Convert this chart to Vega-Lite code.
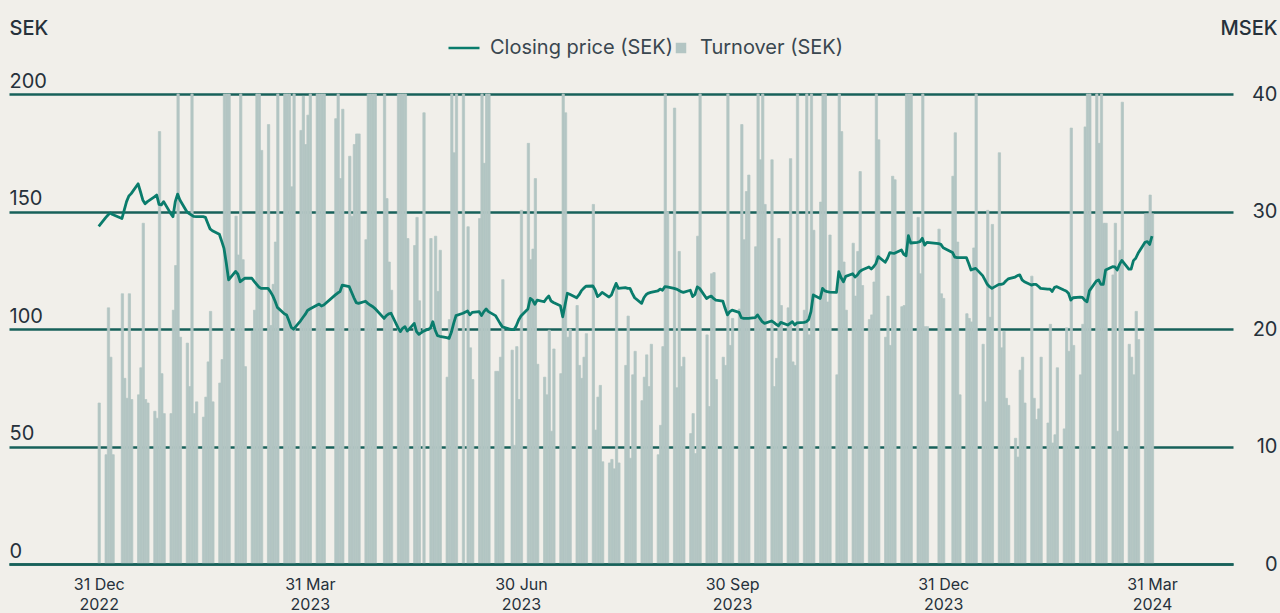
{
  "$schema": "https://vega.github.io/schema/vega-lite/v6.json",
  "width": 1224,
  "height": 470,
  "autosize": {"type": "none"},
  "padding": {"left": 9, "top": 94, "right": 47, "bottom": 49},
  "background": "#f1efea",
  "config": {
    "font": "Inter",
    "view": {"stroke": null},
    "axis": {"labelColor": "#26313b", "titleColor": "#26313b", "labelFont": "Inter", "titleFont": "Inter"},
    "legend": {"labelFont": "Inter", "labelColor": "#3a4750", "padding": 0, "labelLimit": 400}
  },
  "data": {"values": [
    {"d":"2022-12-30","p":143.7,"t":13.7},
    {"d":"2023-01-02","p":147.4,"t":9.3},{"d":"2023-01-03","p":148.5,"t":21.8},{"d":"2023-01-04","p":149.4,"t":17.6},{"d":"2023-01-05","p":148.7,"t":9.3},
    {"d":"2023-01-09","p":147.0,"t":23},{"d":"2023-01-10","p":150.6,"t":15.8},{"d":"2023-01-11","p":154.2,"t":14.1},{"d":"2023-01-12","p":156.6,"t":23},{"d":"2023-01-13","p":157.6,"t":14},
    {"d":"2023-01-16","p":161.8,"t":14.4},{"d":"2023-01-17","p":158.4,"t":16.7},{"d":"2023-01-18","p":154.9,"t":29},{"d":"2023-01-19","p":153.3,"t":14},{"d":"2023-01-20","p":154.2,"t":13.7},
    {"d":"2023-01-23","p":156.2,"t":13},{"d":"2023-01-24","p":157.0,"t":12.4},{"d":"2023-01-25","p":153.0,"t":36.8},{"d":"2023-01-26","p":152.8,"t":16.2},{"d":"2023-01-27","p":154.2,"t":12.8},
    {"d":"2023-01-30","p":149.2,"t":12.8},{"d":"2023-01-31","p":147.8,"t":21.6},{"d":"2023-02-01","p":154.2,"t":25.4},{"d":"2023-02-02","p":157.4,"t":40},{"d":"2023-02-03","p":154.9,"t":19.3},
    {"d":"2023-02-06","p":149.9,"t":18.8},{"d":"2023-02-07","p":149.1,"t":15.1},{"d":"2023-02-08","p":148.5,"t":40},{"d":"2023-02-09","p":147.9,"t":12.8},{"d":"2023-02-10","p":147.8,"t":13.8},
    {"d":"2023-02-13","p":147.8,"t":12.5},{"d":"2023-02-14","p":147.5,"t":14.2},{"d":"2023-02-15","p":145.0,"t":17.2},{"d":"2023-02-16","p":142.6,"t":21.5},{"d":"2023-02-17","p":141.8,"t":13.8},
    {"d":"2023-02-20","p":140.3,"t":15.4},{"d":"2023-02-21","p":137.4,"t":17.4},{"d":"2023-02-22","p":134.3,"t":40},{"d":"2023-02-23","p":128.0,"t":40},{"d":"2023-02-24","p":120.9,"t":40},
    {"d":"2023-02-27","p":124.5,"t":29.6},{"d":"2023-02-28","p":123.3,"t":26.3},{"d":"2023-03-01","p":120.1,"t":40},{"d":"2023-03-02","p":120.9,"t":25.9},{"d":"2023-03-03","p":121.6,"t":16.8},
    {"d":"2023-03-06","p":121.6,"t":19.8},{"d":"2023-03-07","p":120.3,"t":21.6},{"d":"2023-03-08","p":119.1,"t":40},{"d":"2023-03-09","p":117.9,"t":40},{"d":"2023-03-10","p":117.3,"t":35.2},
    {"d":"2023-03-13","p":117.3,"t":37.4},{"d":"2023-03-14","p":115.9,"t":20.3},{"d":"2023-03-15","p":114.2,"t":23.8},{"d":"2023-03-16","p":111.9,"t":27.4},{"d":"2023-03-17","p":109.2,"t":40},
    {"d":"2023-03-20","p":106.5,"t":40},{"d":"2023-03-21","p":106.0,"t":40},{"d":"2023-03-22","p":103.5,"t":40},{"d":"2023-03-23","p":100.7,"t":32.1},{"d":"2023-03-24","p":99.9,"t":40},
    {"d":"2023-03-27","p":103.5,"t":36.9},{"d":"2023-03-28","p":104.9,"t":39.8},{"d":"2023-03-29","p":106.2,"t":35.7},{"d":"2023-03-30","p":107.9,"t":38.2},{"d":"2023-03-31","p":108.5,"t":40},
    {"d":"2023-04-03","p":110.1,"t":40},{"d":"2023-04-04","p":110.6,"t":40},{"d":"2023-04-05","p":109.8,"t":40},{"d":"2023-04-06","p":110.2,"t":40},
    {"d":"2023-04-11","p":114.5,"t":37.9},{"d":"2023-04-12","p":115.3,"t":40},{"d":"2023-04-13","p":115.9,"t":32.8},{"d":"2023-04-14","p":118.7,"t":38.7},
    {"d":"2023-04-17","p":118.0,"t":34.7},{"d":"2023-04-18","p":115.6,"t":29.6},{"d":"2023-04-19","p":113.3,"t":35.7},{"d":"2023-04-20","p":111.2,"t":36.6},{"d":"2023-04-21","p":110.9,"t":36.6},
    {"d":"2023-04-24","p":111.8,"t":27.6},{"d":"2023-04-25","p":110.9,"t":40},{"d":"2023-04-26","p":110.2,"t":40},{"d":"2023-04-27","p":109.6,"t":40},{"d":"2023-04-28","p":108.8,"t":40},
    {"d":"2023-05-02","p":104.5,"t":40},{"d":"2023-05-03","p":105.7,"t":31.1},{"d":"2023-05-04","p":106.4,"t":25.7},{"d":"2023-05-05","p":106.7,"t":23.3},
    {"d":"2023-05-08","p":100.6,"t":40},{"d":"2023-05-09","p":98.9,"t":40},{"d":"2023-05-10","p":100.3,"t":40},{"d":"2023-05-11","p":101.0,"t":40},{"d":"2023-05-12","p":99.1,"t":27.7},
    {"d":"2023-05-15","p":102.4,"t":27.1},{"d":"2023-05-16","p":98.9,"t":29.5},{"d":"2023-05-17","p":97.7,"t":22.4},{"d":"2023-05-19","p":99.1,"t":38.4},
    {"d":"2023-05-22","p":100.3,"t":27.7},{"d":"2023-05-23","p":103.1,"t":20},{"d":"2023-05-24","p":99.6,"t":27.9},{"d":"2023-05-25","p":97.2,"t":23.2},{"d":"2023-05-26","p":96.9,"t":26.7},
    {"d":"2023-05-29","p":96.3,"t":15.9},{"d":"2023-05-30","p":96.0,"t":20.8},{"d":"2023-05-31","p":98.6,"t":40},{"d":"2023-06-01","p":102.4,"t":35},{"d":"2023-06-02","p":105.7,"t":40},
    {"d":"2023-06-05","p":106.7,"t":40},{"d":"2023-06-07","p":107.7,"t":28.7},{"d":"2023-06-08","p":106.0,"t":18.4},{"d":"2023-06-09","p":107.1,"t":15.7},
    {"d":"2023-06-12","p":107.4,"t":29.4},{"d":"2023-06-13","p":105.7,"t":40},{"d":"2023-06-14","p":107.4,"t":34.1},{"d":"2023-06-15","p":108.5,"t":40},{"d":"2023-06-16","p":107.4,"t":40},
    {"d":"2023-06-19","p":105.7,"t":16.4},{"d":"2023-06-20","p":104.1,"t":16.4},{"d":"2023-06-21","p":102.4,"t":17.6},{"d":"2023-06-22","p":100.9,"t":24.2},
    {"d":"2023-06-26","p":99.7,"t":18.2},{"d":"2023-06-27","p":99.7,"t":10.1},{"d":"2023-06-28","p":101.4,"t":18.5},{"d":"2023-06-29","p":103.8,"t":14},{"d":"2023-06-30","p":105.5,"t":30.1},
    {"d":"2023-07-03","p":108.5,"t":35.8},{"d":"2023-07-04","p":113.0,"t":25.9},{"d":"2023-07-05","p":112.3,"t":26.8},{"d":"2023-07-06","p":110.5,"t":32.8},{"d":"2023-07-07","p":112.3,"t":17},
    {"d":"2023-07-10","p":111.6,"t":15.9},{"d":"2023-07-11","p":113.0,"t":14.4},{"d":"2023-07-12","p":114.0,"t":19.9},{"d":"2023-07-13","p":111.9,"t":11.3},{"d":"2023-07-14","p":111.3,"t":18.3},
    {"d":"2023-07-17","p":109.9,"t":16.2},{"d":"2023-07-18","p":105.2,"t":40},{"d":"2023-07-19","p":110.2,"t":38.4},{"d":"2023-07-20","p":115.2,"t":19.3},{"d":"2023-07-21","p":114.8,"t":20},
    {"d":"2023-07-24","p":113.3,"t":22},{"d":"2023-07-25","p":114.5,"t":16.9},{"d":"2023-07-26","p":116.2,"t":15.8},{"d":"2023-07-27","p":117.3,"t":17.6},{"d":"2023-07-28","p":118.2,"t":19.6},
    {"d":"2023-07-31","p":118.3,"t":30.6},{"d":"2023-08-01","p":116.6,"t":11.4},{"d":"2023-08-02","p":113.8,"t":14.2},{"d":"2023-08-03","p":114.5,"t":15.2},{"d":"2023-08-04","p":115.6,"t":8.7},
    {"d":"2023-08-07","p":113.6,"t":8.6},{"d":"2023-08-08","p":114.5,"t":8.9},{"d":"2023-08-09","p":117.0,"t":8.1},{"d":"2023-08-10","p":119.4,"t":23.7},{"d":"2023-08-11","p":117.3,"t":8.6},
    {"d":"2023-08-14","p":117.6,"t":16.9},{"d":"2023-08-15","p":117.3,"t":21.1},{"d":"2023-08-16","p":117.3,"t":9},{"d":"2023-08-17","p":115.2,"t":16.1},{"d":"2023-08-18","p":113.3,"t":18.1},
    {"d":"2023-08-21","p":110.9,"t":13.9},{"d":"2023-08-22","p":113.3,"t":15.9},{"d":"2023-08-23","p":114.7,"t":17.8},{"d":"2023-08-24","p":115.3,"t":15.1},{"d":"2023-08-25","p":115.6,"t":18.7},
    {"d":"2023-08-28","p":116.2,"t":9.3},{"d":"2023-08-29","p":117.0,"t":11.8},{"d":"2023-08-30","p":116.5,"t":18.5},{"d":"2023-08-31","p":118.0,"t":40},{"d":"2023-09-01","p":117.9,"t":30},
    {"d":"2023-09-04","p":117.3,"t":38.8},{"d":"2023-09-05","p":117.0,"t":15},{"d":"2023-09-06","p":116.5,"t":26.6},{"d":"2023-09-07","p":115.9,"t":16.8},{"d":"2023-09-08","p":115.6,"t":17.6},
    {"d":"2023-09-11","p":116.5,"t":11.1},{"d":"2023-09-12","p":113.8,"t":12.8},{"d":"2023-09-13","p":114.7,"t":9.4},{"d":"2023-09-14","p":117.9,"t":27.9},{"d":"2023-09-15","p":117.3,"t":40},
    {"d":"2023-09-18","p":113.0,"t":19.5},{"d":"2023-09-19","p":113.6,"t":13.4},{"d":"2023-09-20","p":114.0,"t":24.7},{"d":"2023-09-21","p":113.0,"t":24.8},{"d":"2023-09-22","p":112.3,"t":15.7},
    {"d":"2023-09-25","p":111.9,"t":17.6},{"d":"2023-09-26","p":108.8,"t":16.9},{"d":"2023-09-27","p":106.0,"t":40},{"d":"2023-09-28","p":107.4,"t":18.6},{"d":"2023-09-29","p":108.0,"t":20.9},
    {"d":"2023-10-02","p":107.1,"t":21.7},{"d":"2023-10-03","p":104.8,"t":37.4},{"d":"2023-10-04","p":104.5,"t":27.6},{"d":"2023-10-05","p":104.5,"t":31.7},{"d":"2023-10-06","p":104.5,"t":33.1},
    {"d":"2023-10-09","p":104.8,"t":27},{"d":"2023-10-10","p":106.0,"t":40},{"d":"2023-10-11","p":104.5,"t":34.4},{"d":"2023-10-12","p":103.1,"t":40},{"d":"2023-10-13","p":102.4,"t":30.6},
    {"d":"2023-10-16","p":103.4,"t":34.4},{"d":"2023-10-17","p":102.8,"t":15.1},{"d":"2023-10-18","p":102.0,"t":17.5},{"d":"2023-10-19","p":101.4,"t":27.7},{"d":"2023-10-20","p":102.8,"t":22},
    {"d":"2023-10-23","p":101.7,"t":21.8},{"d":"2023-10-24","p":102.4,"t":34.5},{"d":"2023-10-25","p":103.1,"t":17.2},{"d":"2023-10-26","p":101.7,"t":16.9},{"d":"2023-10-27","p":102.6,"t":40},
    {"d":"2023-10-30","p":102.8,"t":21.6},{"d":"2023-10-31","p":103.1,"t":40},{"d":"2023-11-01","p":104.0,"t":19.5},{"d":"2023-11-02","p":107.4,"t":40},{"d":"2023-11-03","p":114.5,"t":28.4},
    {"d":"2023-11-06","p":113.0,"t":30.8},{"d":"2023-11-07","p":117.3,"t":40},{"d":"2023-11-08","p":116.2,"t":40},{"d":"2023-11-09","p":115.9,"t":22.3},{"d":"2023-11-10","p":115.7,"t":28},
    {"d":"2023-11-13","p":115.6,"t":16.1},{"d":"2023-11-14","p":124.4,"t":40},{"d":"2023-11-15","p":121.8,"t":36.8},{"d":"2023-11-16","p":120.1,"t":25.7},{"d":"2023-11-17","p":122.4,"t":21.6},
    {"d":"2023-11-20","p":123.5,"t":27.3},{"d":"2023-11-21","p":122.1,"t":22.8},{"d":"2023-11-22","p":123.0,"t":26.6},{"d":"2023-11-23","p":124.4,"t":33.4},{"d":"2023-11-24","p":125.1,"t":23.7},
    {"d":"2023-11-27","p":126.4,"t":20.8},{"d":"2023-11-28","p":125.5,"t":21.2},{"d":"2023-11-29","p":126.5,"t":24},{"d":"2023-11-30","p":127.9,"t":40},{"d":"2023-12-01","p":130.8,"t":36.1},
    {"d":"2023-12-04","p":128.4,"t":19.3},{"d":"2023-12-05","p":130.1,"t":22.8},{"d":"2023-12-06","p":132.5,"t":18.6},{"d":"2023-12-07","p":132.3,"t":33},{"d":"2023-12-08","p":132.2,"t":32.7},
    {"d":"2023-12-11","p":133.6,"t":21.9},{"d":"2023-12-12","p":131.8,"t":22},{"d":"2023-12-13","p":131.2,"t":40},{"d":"2023-12-14","p":139.7,"t":40},{"d":"2023-12-15","p":136.6,"t":40},
    {"d":"2023-12-18","p":136.9,"t":29.5},{"d":"2023-12-19","p":137.2,"t":24.7},{"d":"2023-12-20","p":138.6,"t":40},{"d":"2023-12-21","p":135.7,"t":20.2},{"d":"2023-12-22","p":136.9,"t":20.2},
    {"d":"2023-12-27","p":136.3,"t":28.5},{"d":"2023-12-28","p":136.0,"t":23},{"d":"2023-12-29","p":134.6,"t":22.6},
    {"d":"2024-01-02","p":132.6,"t":33},{"d":"2024-01-03","p":130.6,"t":36.7},{"d":"2024-01-04","p":130.4,"t":27.4},{"d":"2024-01-05","p":130.4,"t":14.4},
    {"d":"2024-01-08","p":130.4,"t":21.3},{"d":"2024-01-09","p":127.9,"t":20.9},{"d":"2024-01-10","p":125.1,"t":20.6},{"d":"2024-01-11","p":125.5,"t":26.9},{"d":"2024-01-12","p":125.8,"t":40},
    {"d":"2024-01-15","p":122.7,"t":18.7},{"d":"2024-01-16","p":120.9,"t":13.8},{"d":"2024-01-17","p":119.0,"t":30.1},{"d":"2024-01-18","p":118.0,"t":21},{"d":"2024-01-19","p":117.3,"t":28.9},
    {"d":"2024-01-22","p":119.0,"t":35},{"d":"2024-01-23","p":119.0,"t":18.4},{"d":"2024-01-24","p":119.3,"t":19.8},{"d":"2024-01-25","p":120.4,"t":14.1},{"d":"2024-01-26","p":121.3,"t":13.5},
    {"d":"2024-01-29","p":122.1,"t":10.7},{"d":"2024-01-30","p":122.7,"t":9.1},{"d":"2024-01-31","p":123.0,"t":16.5},{"d":"2024-02-01","p":120.9,"t":17.6},{"d":"2024-02-02","p":120.1,"t":13.7},
    {"d":"2024-02-05","p":118.7,"t":24.5},{"d":"2024-02-06","p":119.0,"t":14.1},{"d":"2024-02-07","p":119.0,"t":12.3},{"d":"2024-02-08","p":118.2,"t":13.2},{"d":"2024-02-09","p":117.3,"t":17.6},
    {"d":"2024-02-12","p":117.0,"t":12},{"d":"2024-02-13","p":117.0,"t":20.4},{"d":"2024-02-14","p":116.0,"t":10.3},{"d":"2024-02-15","p":117.7,"t":11},{"d":"2024-02-16","p":118.0,"t":16.7},
    {"d":"2024-02-19","p":116.6,"t":11.5},{"d":"2024-02-20","p":116.2,"t":20.1},{"d":"2024-02-21","p":115.2,"t":18.1},{"d":"2024-02-22","p":112.3,"t":37.1},{"d":"2024-02-23","p":113.3,"t":18.6},
    {"d":"2024-02-26","p":113.6,"t":16.1},{"d":"2024-02-27","p":113.5,"t":20.4},{"d":"2024-02-28","p":112.3,"t":37.2},{"d":"2024-02-29","p":111.6,"t":40},{"d":"2024-03-01","p":116.2,"t":40},
    {"d":"2024-03-04","p":120.4,"t":40},{"d":"2024-03-05","p":120.9,"t":35.8},{"d":"2024-03-06","p":119.0,"t":40},{"d":"2024-03-07","p":119.0,"t":29},{"d":"2024-03-08","p":125.1,"t":29},
    {"d":"2024-03-11","p":126.5,"t":24.6},{"d":"2024-03-12","p":126.4,"t":29},{"d":"2024-03-13","p":125.1,"t":11.3},{"d":"2024-03-14","p":127.5,"t":26.7},{"d":"2024-03-15","p":129.2,"t":39.3},
    {"d":"2024-03-18","p":125.5,"t":18.7},{"d":"2024-03-19","p":125.5,"t":17.6},{"d":"2024-03-20","p":129.1,"t":16.1},{"d":"2024-03-21","p":130.1,"t":21.5},{"d":"2024-03-22","p":132.2,"t":19.1},
    {"d":"2024-03-25","p":136.9,"t":29.8},{"d":"2024-03-26","p":137.2,"t":29.8},{"d":"2024-03-27","p":136.0,"t":31.4},{"d":"2024-03-28","p":139.5,"t":29.8}
  ]},
  "layer": [
    {
      "mark": {"type": "bar", "binSpacing": 0, "color": "#b3c5c3", "stroke": "#b3c5c3", "strokeWidth": 0.7},
      "encoding": {
        "x": {
          "field": "d", "type": "temporal", "timeUnit": "utcyearmonthdate",
          "scale": {"type": "utc", "domain": [
            {"year": 2022, "month": 11, "date": 21, "hours": 20, "utc": true},
            {"year": 2024, "month": 5, "date": 2, "hours": 10, "utc": true}
          ]},
          "axis": {
            "title": null, "grid": false, "ticks": false,
            "domain": true, "domainColor": "#17615a", "domainWidth": 2.3,
            "zindex": 1,
            "values": [
              {"year": 2022, "month": 12, "date": 30, "hours": 12, "utc": true},
              {"year": 2023, "month": 3, "date": 31, "hours": 12, "utc": true},
              {"year": 2023, "month": 6, "date": 30, "hours": 12, "utc": true},
              {"year": 2023, "month": 9, "date": 29, "hours": 12, "utc": true},
              {"year": 2023, "month": 12, "date": 29, "hours": 12, "utc": true},
              {"year": 2024, "month": 3, "date": 28, "hours": 12, "utc": true}
            ],
            "labelExpr": "[utcmonth(datum.value)==11 ? '31 Dec' : utcmonth(datum.value)==2 ? '31 Mar' : utcmonth(datum.value)==5 ? '30 Jun' : '30 Sep', '' + utcyear(datum.value)]",
            "labelFontSize": 16, "labelLineHeight": 20, "labelPadding": 12,
            "labelFlush": false, "labelOverlap": false, "labelBound": false
          }
        },
        "y": {
          "field": "t", "type": "quantitative",
          "scale": {"domain": [0, 40]},
          "axis": {
            "orient": "right", "title": "MSEK", "values": [0, 10, 20, 30, 40],
            "grid": false, "ticks": false, "domain": false,
            "labelAlign": "right", "labelBaseline": "middle", "labelPadding": 44,
            "labelFontSize": 20, "labelFlush": false, "labelOverlap": false,
            "titleAngle": 0, "titleAlign": "right", "titleBaseline": "alphabetic",
            "titleX": 44, "titleY": -60, "titleFontSize": 20, "titleFontWeight": 500
          }
        },
        "color": {
          "datum": "Turnover (SEK)",
          "scale": {"range": ["#b3c5c3"]},
          "legend": {
            "title": null, "orient": "none", "legendX": 662, "legendY": -56,
            "symbolType": "square", "symbolSize": 110, "symbolOpacity": 1, "symbolStrokeWidth": 0,
            "labelFontSize": 20, "labelOffset": 9
          }
        }
      }
    },
    {
      "mark": {"type": "line", "strokeWidth": 2.8, "strokeJoin": "round"},
      "encoding": {
        "x": {"field": "d", "type": "temporal", "timeUnit": "utcyearmonthdate", "bandPosition": 0.5},
        "y": {
          "field": "p", "type": "quantitative",
          "scale": {"domain": [0, 200]},
          "axis": {
            "orient": "left", "title": "SEK", "values": [0, 50, 100, 150, 200],
            "grid": true, "gridColor": "#17615a", "gridWidth": 2.3, "gridOpacity": 1,
            "ticks": false, "domain": false,
            "labelAlign": "left", "labelBaseline": "alphabetic", "labelPadding": 0, "labelOffset": -7,
            "labelFontSize": 20, "labelFlush": false, "labelOverlap": false,
            "titleAngle": 0, "titleAlign": "left", "titleBaseline": "alphabetic",
            "titleX": 0, "titleY": -60, "titleFontSize": 20, "titleFontWeight": 500
          }
        },
        "stroke": {
          "datum": "Closing price (SEK)",
          "scale": {"range": ["#0a7c6c"]},
          "legend": {
            "title": null, "orient": "none", "legendX": 438, "legendY": -63,
            "symbolType": "stroke", "symbolSize": 961, "symbolStrokeWidth": 2.5,
            "labelFontSize": 20, "labelOffset": 9
          }
        }
      }
    }
  ],
  "resolve": {"scale": {"y": "independent"}}
}
